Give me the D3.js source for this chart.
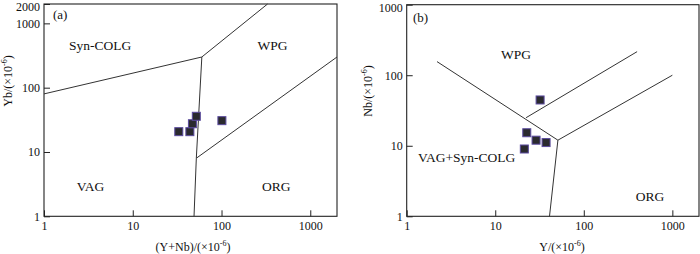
<!DOCTYPE html>
<html><head><meta charset="utf-8">
<script src="https://cdn.jsdelivr.net/npm/d3@7"></script>
<style>
body{margin:0;background:#fff;}
svg{display:block;font-family:"Liberation Serif","Times New Roman",serif;}
</style></head>
<body><svg id="c" width="700" height="254"></svg>
<script>
// ---- Data ----
// Panel (a): (Y+Nb) vs Yb
const sampleA_x = [33, 44, 47, 52, 101];
const sampleA_y = [20.7, 20.7, 27.5, 35.9, 30.7];
const boundaryA = [
  [[1, 80], [60, 300], [330, 2000]],
  [[60, 300], [52, 8], [49, 1]],
  [[52, 8], [2000, 300]]
];
const fieldsA = [
  {name: "Syn-COLG", x: 4.3, y: 385},
  {name: "WPG", x: 375, y: 385},
  {name: "VAG", x: 3.35, y: 2.5},
  {name: "ORG", x: 415, y: 2.5}
];
const ticksAx = [1, 10, 100, 1000];
const ticksAy = [1, 10, 100, 1000, 2000];

// Panel (b): Y vs Nb
const sampleB_x = [32.1, 22.7, 28.9, 37.5, 21.3];
const sampleB_y = [44.6, 15.3, 12.0, 11.1, 9.0];
const boundaryB = [
  [[2.2, 156], [51, 12], [41, 1]],
  [[51, 12], [1000, 100]],
  [[22.3, 25], [400, 216]]
];
const fieldsB = [
  {name: "WPG", x: 17.2, y: 170, anchor: "middle"},
  {name: "VAG+Syn-COLG", x: 1.34, y: 5.9, anchor: "start"},
  {name: "ORG", x: 560, y: 1.65, anchor: "middle"}
];
const ticksBx = [1, 10, 100, 1000];
const ticksBy = [1, 10, 100, 1000];

const svg = d3.select("#c");

function panel(opt) {
  const g = svg.append("g");
  const x = d3.scaleLog().domain(opt.xd).range(opt.xr);
  const y = d3.scaleLog().domain(opt.yd).range(opt.yr);
  // axes
  const ax = g.append("g").attr("transform", `translate(0,${opt.yr[0]})`)
    .call(d3.axisBottom(x).tickValues(opt.tx).tickFormat(d3.format("d"))
      .tickSizeInner(-6).tickSizeOuter(0).tickPadding(5));
  const ay = g.append("g").attr("transform", `translate(${opt.xr[0]},0)`)
    .call(d3.axisLeft(y).tickValues(opt.ty).tickFormat(d3.format("d"))
      .tickSizeInner(-6).tickSizeOuter(0).tickPadding(4));
  [ax, ay].forEach(a => {
    a.select(".domain").remove();
    a.selectAll("text").attr("font-size", 12).attr("fill", "#111")
      .attr("font-family", "Liberation Serif, serif");
    a.selectAll("line").attr("stroke", "#222");
  });
  // keep top-most y tick label inside the picture
  ay.selectAll(".tick").filter(d => d === opt.yd[1]).select("text").attr("dy", "0.55em");
  // frame
  g.append("rect").attr("x", opt.xr[0]).attr("y", opt.yr[1])
    .attr("width", opt.xr[1] - opt.xr[0]).attr("height", opt.yr[0] - opt.yr[1])
    .attr("fill", "none").attr("stroke", "#222").attr("stroke-width", 1.1);
  // boundaries
  const line = d3.line().x(d => x(d[0])).y(d => y(d[1]));
  g.selectAll(".bd").data(opt.bd).join("path")
    .attr("d", line).attr("fill", "none").attr("stroke", "#333").attr("stroke-width", 1);
  // field labels
  g.selectAll(".fl").data(opt.fields).join("text")
    .attr("x", d => x(d.x)).attr("y", d => y(d.y))
    .attr("text-anchor", d => d.anchor || "middle")
    .attr("font-size", 13.5).attr("fill", "#111").text(d => d.name);
  // panel label
  g.append("text").attr("x", opt.plx).attr("y", opt.ply).attr("font-size", 13)
    .attr("fill", "#111").text(opt.pl);
  // samples
  const s = 8;
  g.selectAll(".pt").data(opt.sx.map((v, i) => [v, opt.sy[i]])).join("rect")
    .attr("x", d => x(d[0]) - s / 2).attr("y", d => y(d[1]) - s / 2)
    .attr("width", s).attr("height", s)
    .attr("fill", "#2a2a2e").attr("stroke", "#5a4a9e").attr("stroke-width", 1);
  // x title
  const xt = g.append("text").attr("x", opt.xtx).attr("y", 251)
    .attr("text-anchor", "middle").attr("font-size", 12).attr("fill", "#111");
  xt.append("tspan").text(opt.xtitle + "/(×10");
  xt.append("tspan").attr("dy", -5).attr("font-size", 8).text("-6");
  xt.append("tspan").attr("dy", 5).text(")");
  // y title
  const yt = g.append("text").attr("transform", `translate(${opt.ytx},${opt.yty}) rotate(-90)`)
    .attr("text-anchor", "middle").attr("font-size", 12).attr("fill", "#111");
  yt.append("tspan").text(opt.ytitle + "/(×10");
  yt.append("tspan").attr("dy", -5).attr("font-size", 8).text("-6");
  yt.append("tspan").attr("dy", 5).text(")");
}

panel({
  xd: [1, 2000], xr: [44, 337], yd: [1, 2000], yr: [216.3, 4],
  tx: ticksAx, ty: ticksAy, bd: boundaryA, fields: fieldsA,
  pl: "(a)", plx: 53, ply: 19, sx: sampleA_x, sy: sampleA_y,
  xtitle: "(Y+Nb)", xtx: 193, ytitle: "Yb", ytx: 12, yty: 81
});
panel({
  xd: [1, 2000], xr: [406.7, 699], yd: [1, 1000], yr: [216.3, 4.7],
  tx: ticksBx, ty: ticksBy, bd: boundaryB, fields: fieldsB,
  pl: "(b)", plx: 413, ply: 22, sx: sampleB_x, sy: sampleB_y,
  xtitle: "Y", xtx: 562, ytitle: "Nb", ytx: 372, yty: 91
});
</script></body></html>
